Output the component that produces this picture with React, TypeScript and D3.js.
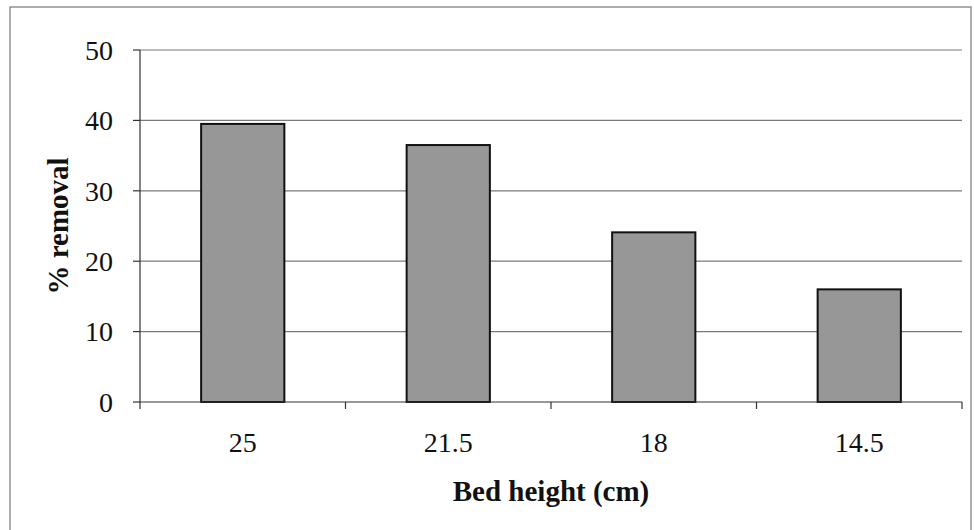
import React from "react";
import * as d3 from "d3";

const categories = ["25", "21.5", "18", "14.5"];
const removal = [39.5, 36.5, 24.1, 16.0];
const yTicks = [0, 10, 20, 30, 40, 50];
const xTitle = "Bed height (cm)";
const yTitle = "% removal";

const W = 974;
const H = 530;
const M = { left: 140, right: 12, top: 50, bottom: 128 };
const FONT = "'Liberation Serif', 'Times New Roman', serif";

export default function App() {
  const x = d3
    .scaleBand<string>()
    .domain(categories)
    .range([M.left, W - M.right])
    .paddingInner(0.595)
    .paddingOuter(0.2975);
  const y = d3.scaleLinear().domain([0, 50]).range([H - M.bottom, M.top]);
  const bands = d3.scaleBand<string>().domain(categories).range([M.left, W - M.right]);
  const bandEdges = [...categories.map((c) => bands(c) as number), W - M.right];

  return (
    <div style={{ position: "absolute", left: 0, top: 0 }}>
      <svg width={W} height={H} style={{ display: "block", background: "#fff" }}>
        <rect x={10} y={7} width={961} height={540} fill="none" stroke="#777" strokeWidth={1.2} />
        {yTicks.map((t) => (
          <g key={t}>
            {t > 0 && (
              <line x1={M.left} x2={W - M.right} y1={y(t)} y2={y(t)} stroke="#7a7a7a" strokeWidth={1.2} />
            )}
            <line x1={M.left - 7} x2={M.left} y1={y(t)} y2={y(t)} stroke="#333" strokeWidth={1.2} />
            <text
              x={M.left - 27}
              y={y(t)}
              dy="0.35em"
              textAnchor="end"
              fontFamily={FONT}
              fontSize={28}
              fill="#111"
            >
              {t}
            </text>
          </g>
        ))}
        {categories.map((c, i) => (
          <rect
            key={c}
            x={x(c)}
            y={y(removal[i])}
            width={x.bandwidth()}
            height={y(0) - y(removal[i])}
            fill="#979797"
            stroke="#111"
            strokeWidth={2}
          />
        ))}
        <line x1={M.left} x2={M.left} y1={M.top} y2={y(0)} stroke="#333" strokeWidth={1.2} />
        <line x1={M.left} x2={W - M.right} y1={y(0)} y2={y(0)} stroke="#333" strokeWidth={1.2} />
        {bandEdges.map((bx, i) => (
          <line key={i} x1={bx} x2={bx} y1={y(0)} y2={y(0) + 7} stroke="#333" strokeWidth={1.2} />
        ))}
        {categories.map((c) => (
          <text
            key={c}
            x={(x(c) as number) + x.bandwidth() / 2}
            y={452}
            textAnchor="middle"
            fontFamily={FONT}
            fontSize={28}
            fill="#111"
          >
            {c}
          </text>
        ))}
        <text
          x={(M.left + W - M.right) / 2}
          y={501}
          textAnchor="middle"
          fontFamily={FONT}
          fontSize={29}
          fontWeight="bold"
          fill="#111"
        >
          {xTitle}
        </text>
        <text
          transform={`translate(68, ${(M.top + y(0)) / 2}) rotate(-90)`}
          textAnchor="middle"
          fontFamily={FONT}
          fontSize={29}
          fontWeight="bold"
          fill="#111"
        >
          {yTitle}
        </text>
      </svg>
    </div>
  );
}
